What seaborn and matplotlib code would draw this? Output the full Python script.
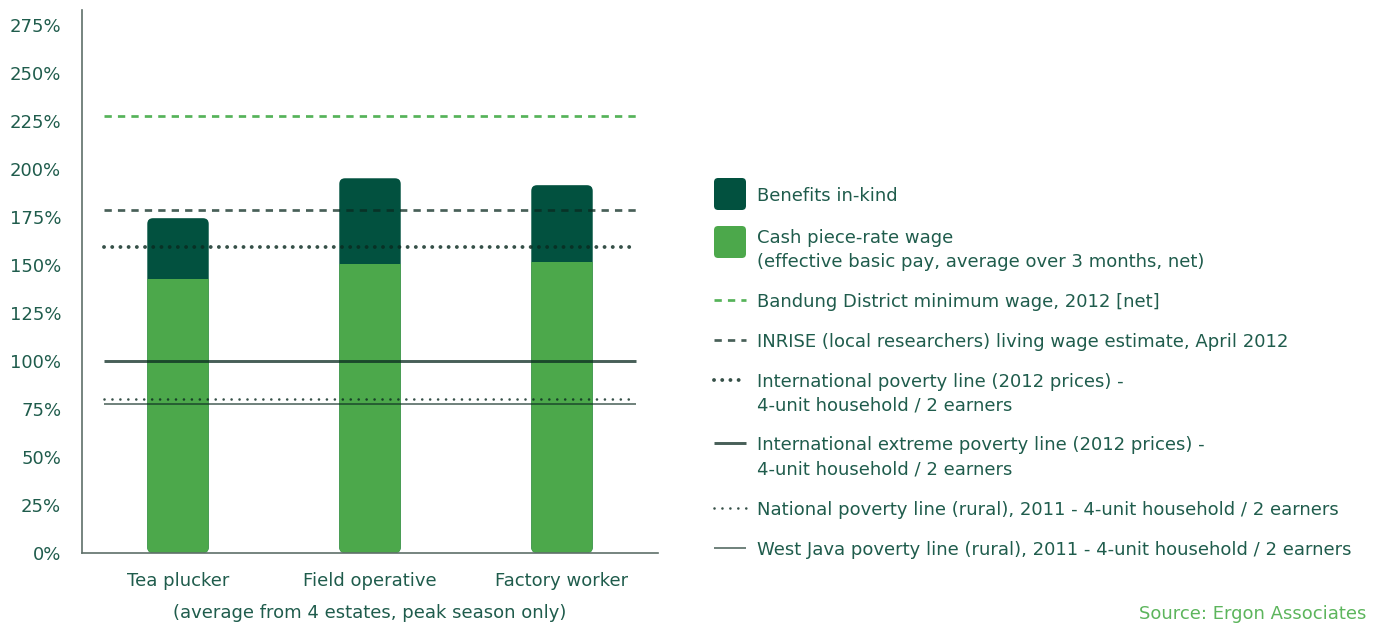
import numpy as np
import pandas as pd
import matplotlib.pyplot as plt
import seaborn as sns
from matplotlib.patches import FancyBboxPatch
from matplotlib.lines import Line2D

# ── Data (percent of reference poverty line) ─────────────────────────────────
categories   = ["Tea plucker", "Field operative", "Factory worker"]
cash_wage    = [142.7, 150.5, 151.6]   # cash piece-rate wage
benefits     = [31.8, 44.8, 40.1]      # benefits in-kind (stacked on top)

ref_labels = [
    "Bandung District minimum wage, 2012 [net]",
    "INRISE (local researchers) living wage estimate, April 2012",
    "International poverty line (2012 prices) -\n4-unit household / 2 earners",
    "International extreme poverty line (2012 prices) -\n4-unit household / 2 earners",
    "National poverty line (rural), 2011 - 4-unit household / 2 earners",
    "West Java poverty line (rural), 2011 - 4-unit household / 2 earners",
]
ref_values = [227.6, 178.6, 159.4, 100.0, 80.2, 77.6]

yticks = [0, 25, 50, 75, 100, 125, 150, 175, 200, 225, 250, 275]

# ── Style ────────────────────────────────────────────────────────────────────
DARK   = "#02513f"
LIGHT  = "#4ca84b"
TEXT   = "#1f5c4c"
AXIS   = "#5f706a"
GREY   = "#0a2a20"   # drawn with alpha so lines darken over the bars
SRC    = "#5cb55c"
FS     = 13

ref_styles = [
    dict(color="#4caf50", alpha=0.95, lw=1.95, ls=(0, (2.7, 2.26)), cap="butt"),
    dict(color=GREY, alpha=0.75, lw=1.95, ls=(0, (2.7, 2.26)), cap="butt"),
    dict(color=GREY, alpha=0.82, lw=2.8,  ls=(0, (0.01, 2.1)),  cap="round"),
    dict(color=GREY, alpha=0.75, lw=2.1,  ls="-",               cap="butt"),
    dict(color=GREY, alpha=0.82, lw=1.9,  ls=(0, (0.01, 3.0)),  cap="round"),
    dict(color=GREY, alpha=0.75, lw=1.1,  ls="-",               cap="butt"),
]

sns.set_theme(style="white")
plt.rcParams["font.family"] = ["DejaVu Sans"]

df = pd.DataFrame({"category": categories,
                   "cash": cash_wage,
                   "total": np.array(cash_wage) + np.array(benefits)})

fig = plt.figure(figsize=(13.76, 6.25), dpi=100)
ax = fig.add_axes([0.0596, 0.1152, 0.4186, 0.8688])

sns.barplot(data=df, x="category", y="total", color=DARK, width=0.32,
            saturation=1, linewidth=0, edgecolor="none", ax=ax)
sns.barplot(data=df, x="category", y="cash", color=LIGHT, width=0.32,
            saturation=1, linewidth=0, edgecolor="none", ax=ax)

ax.set_xlim(-0.5, 2.5)
ax.set_ylim(0, 283)

# rounded bar corners: dark bars become rounded boxes, light bars clipped to them
n = len(categories)
dark_bars = ax.patches[:n]
light_bars = ax.patches[n:2 * n]
for dbar, lbar in zip(dark_bars, light_bars):
    x, y = dbar.get_x(), dbar.get_y()
    w, h = dbar.get_width(), dbar.get_height()
    rounded = FancyBboxPatch((x, y), w, h,
                             boxstyle="round,pad=0,rounding_size=0.03",
                             mutation_aspect=100, facecolor=DARK,
                             edgecolor="none", zorder=dbar.get_zorder())
    ax.add_patch(rounded)
    dbar.set_visible(False)
    lbar.set_clip_path(rounded)
    lbar.set_zorder(dbar.get_zorder() + 0.1)

# reference lines
for val, st in zip(ref_values, ref_styles):
    ax.hlines(val, -0.385, 2.385, colors=st["color"], alpha=st["alpha"],
              linewidth=st["lw"], linestyles=st["ls"], capstyle=st["cap"],
              zorder=5)

ax.set_yticks(yticks)
ax.set_yticklabels([f"{v}%" for v in yticks])
ax.tick_params(axis="y", length=0, pad=15, labelsize=FS, labelcolor=TEXT)
ax.tick_params(axis="x", length=0, pad=14, labelsize=FS, labelcolor=TEXT)
ax.set_xlabel("(average from 4 estates, peak season only)", fontsize=FS,
              color=TEXT, labelpad=10)
ax.set_ylabel("")
sns.despine(ax=ax)
for side in ("left", "bottom"):
    ax.spines[side].set_color(AXIS)
    ax.spines[side].set_linewidth(1.2)

# ── Legend (drawn in figure pixels) ──────────────────────────────────────────
W, H = 1376, 625
def fx(px): return px / W
def fy(py): return 1 - py / H
LINE_GAP = 24  # px between wrapped lines

def legend_text(label, first_y):
    for i, line in enumerate(label.split("\n")):
        fig.text(fx(757), fy(first_y + i * LINE_GAP), line, ha="left",
                 va="center_baseline", fontsize=FS, color=TEXT)

# patch entries: (label, colour, square top, first text line centre)
patch_entries = [
    ("Benefits in-kind", DARK, 178, 194),
    ("Cash piece-rate wage\n(effective basic pay, average over 3 months, net)",
     LIGHT, 226, 236),
]
for label, col, sq_top, txt_y in patch_entries:
    fig.patches.append(FancyBboxPatch(
        (fx(714), fy(sq_top + 32)), fx(32), 32 / H,
        boxstyle="round,pad=0,rounding_size=0.003", mutation_aspect=W / H,
        transform=fig.transFigure, facecolor=col, edgecolor="none"))
    legend_text(label, txt_y)

# line entries: y of handle / first text line
line_y = [300, 340, 380, 443, 508, 548]
for label, st, yy in zip(ref_labels, ref_styles, line_y):
    fig.add_artist(Line2D([fx(714), fx(746)], [fy(yy), fy(yy)],
                          transform=fig.transFigure, color=st["color"],
                          alpha=st["alpha"], linewidth=st["lw"],
                          linestyle=st["ls"], dash_capstyle=st["cap"],
                          solid_capstyle="butt"))
    legend_text(label, yy)

fig.text(fx(1366), fy(612), "Source: Ergon Associates", ha="right",
         va="center_baseline", fontsize=FS, color=SRC)

fig.savefig("out.png", dpi=100)
